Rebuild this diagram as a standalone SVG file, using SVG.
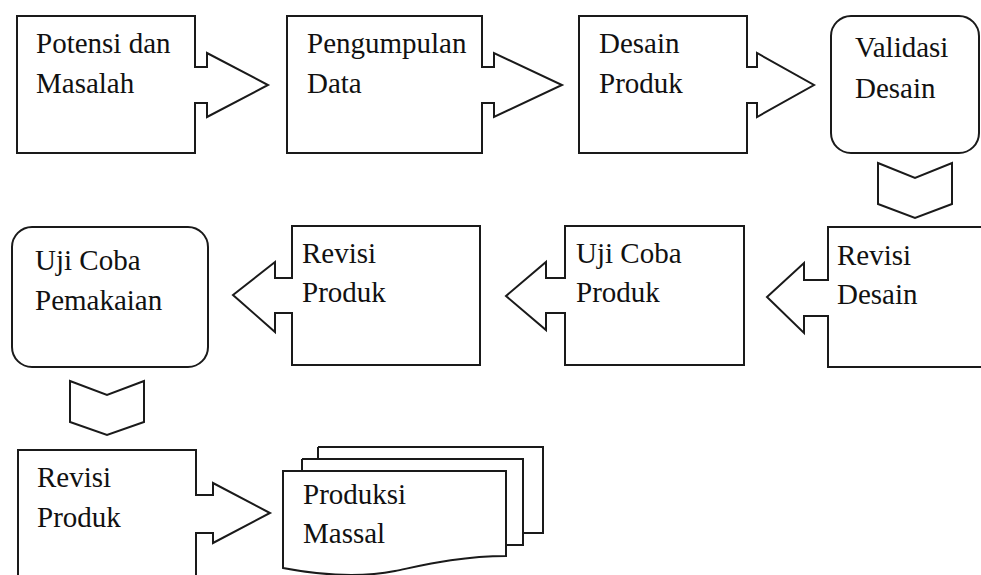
<svg xmlns="http://www.w3.org/2000/svg" width="981" height="575" viewBox="0 0 981 575">
<style>
.s{fill:#fff;stroke:#1a1a1a;stroke-width:2;stroke-linejoin:miter}
.t{font-size:29px;fill:#111}
</style>
<rect width="981" height="575" fill="#fff"/>
<g id="connectors">
<path class="s" d="M878,163 L915,178 L952,163 V204 L915,218 L878,204 Z"/>
<path class="s" d="M70,381 L107,395 L144,381 V422 L107,435 L70,422 Z"/>
</g>
<g font-family="'Liberation Serif', 'DejaVu Serif', 'Times New Roman', serif">
<g id="n1">
<path class="s" d="M17,16 H195 V67 H207 V53 L268,85 L207,117 V103 H195 V153 H17 Z"/>
<text class="t" x="36" y="53">Potensi dan</text>
<text class="t" x="36" y="93">Masalah</text>
</g>
<g id="n2">
<path class="s" d="M287,16 H482 V67 H494 V53 L562,85 L494,117 V103 H482 V153 H287 Z"/>
<text class="t" x="307" y="53">Pengumpulan</text>
<text class="t" x="307" y="93">Data</text>
</g>
<g id="n3">
<path class="s" d="M579,16 H747 V67 H757 V53 L814,85 L757,117 V103 H747 V153 H579 Z"/>
<text class="t" x="599" y="53">Desain</text>
<text class="t" x="599" y="93">Produk</text>
</g>
<g id="n4">
<rect class="s" x="831" y="16" width="148" height="137" rx="20"/>
<text class="t" x="855" y="57">Validasi</text>
<text class="t" x="855" y="98">Desain</text>
</g>
<g id="n5">
<path class="s" d="M990,227 H828 V280 H804 V263 L767,297 L804,333 V316 H828 V367 H990"/>
<text class="t" x="837" y="265">Revisi</text>
<text class="t" x="837" y="304">Desain</text>
</g>
<g id="n6">
<path class="s" d="M744,226 H565 V278 H546 V262 L506,296 L546,330 V313 H565 V365 H744 Z"/>
<text class="t" x="576" y="263">Uji Coba</text>
<text class="t" x="576" y="302">Produk</text>
</g>
<g id="n7">
<path class="s" d="M480,226 H292 V278 H275 V262 L233,295 L275,332 V313 H292 V365 H480 Z"/>
<text class="t" x="302" y="263">Revisi</text>
<text class="t" x="302" y="302">Produk</text>
</g>
<g id="n8">
<rect class="s" x="12" y="227" width="196" height="140" rx="20"/>
<text class="t" x="35" y="270">Uji Coba</text>
<text class="t" x="35" y="310">Pemakaian</text>
</g>
<g id="n9">
<path class="s" d="M18,590 V450 H196 V495 H213 V483 L270,513 L213,543 V533 H196 V590"/>
<text class="t" x="37" y="487">Revisi</text>
<text class="t" x="37" y="527">Produk</text>
</g>
<g id="n10">
<path class="s" d="M318,447 H543 V533 H523"/>
<path class="s" d="M302,459 H523 V545 H506"/>
<path class="s" d="M318,459 V447"/>
<path class="s" d="M302,471 V459"/>
<path class="s" d="M283,471 H506 V556 C460,556 420,566 395,571 C360,578 320,575 283,568 Z"/>
<text class="t" x="303" y="504">Produksi</text>
<text class="t" x="303" y="543">Massal</text>
</g>
</g>
</svg>
